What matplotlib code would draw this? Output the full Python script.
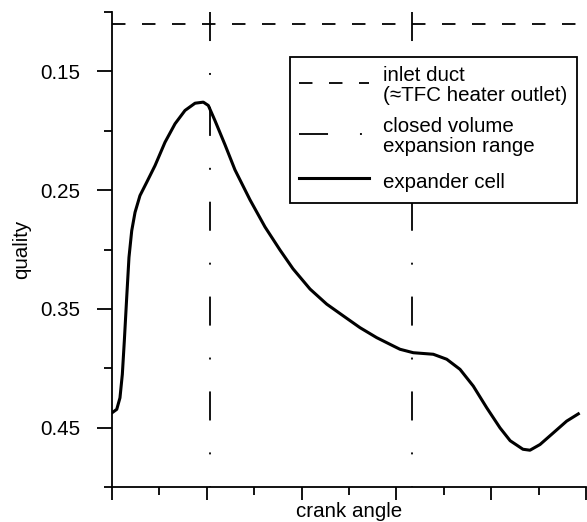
import numpy as np
import matplotlib
matplotlib.use("Agg")
import matplotlib.pyplot as plt
from matplotlib.ticker import MultipleLocator, FixedLocator

plt.rcParams['font.family'] = ['Liberation Sans', 'DejaVu Sans']
plt.rcParams['font.size'] = 14.8
plt.rcParams['lines.scale_dashes'] = False

# crank angle (arbitrary units, axis 0..500) and quality of the expander cell
crank = [0, 5.0, 8.4, 10.9, 13.0, 15.5, 17.9, 20.8, 24.3, 29.5, 36.6, 45.4,
         55.9, 66.5, 77.0, 87.6, 96.3, 101.6, 108.6, 119.2, 129.7, 145.6,
         161.4, 177.2, 190.9, 208.9, 226.5, 244.0, 261.6, 279.2, 296.7,
         303.8, 317.8, 338.9, 353.1, 367.1, 381.1, 395.3, 409.3, 420.0,
         433.5, 440.9, 451.5, 465.5, 479.6, 491.9]
quality = [0.4375, 0.4346, 0.4249, 0.4051, 0.3770, 0.3405, 0.3067, 0.2842,
           0.2687, 0.2546, 0.2434, 0.2293, 0.2097, 0.1941, 0.1829, 0.1768,
           0.1759, 0.1787, 0.1914, 0.2118, 0.2329, 0.2582, 0.2810, 0.3004,
           0.3162, 0.3333, 0.3460, 0.3559, 0.3658, 0.3742, 0.3812, 0.3840,
           0.3869, 0.3882, 0.3924, 0.4009, 0.4150, 0.4333, 0.4502, 0.4610,
           0.4682, 0.4690, 0.4642, 0.4544, 0.4445, 0.4384]

inlet_quality = 0.11
closed_range = [103, 316.5]
x_range = [0, 500]
y_range = [0.10, 0.50]
y_major = [0.15, 0.25, 0.35, 0.45]

fig = plt.figure(figsize=(5.87, 5.22), dpi=100)
ax = fig.add_axes([0.1908, 0.067, 0.8075, 0.910])

ax.plot(x_range, [inlet_quality, inlet_quality], color='black', lw=1.3,
        ls=(0, (9.7, 11.9)), label='inlet duct\n(≈TFC heater outlet)')
for i, xc in enumerate(closed_range):
    ax.plot([xc, xc], y_range, color='black', lw=1.3,
            ls=(0, (20.9, 23.0, 1.4, 23.0)),
            label='closed volume\nexpansion range' if i == 0 else None)
ax.plot(crank, quality, color='black', lw=2.2, label='expander cell',
        solid_joinstyle='round')

ax.set_xlim(x_range)
ax.set_ylim(y_range[1], y_range[0])

ax.xaxis.set_major_locator(MultipleLocator(100))
ax.xaxis.set_minor_locator(MultipleLocator(50))
ax.set_xticklabels([])
ax.yaxis.set_major_locator(FixedLocator(y_major))
ax.yaxis.set_minor_locator(FixedLocator([0.10, 0.20, 0.30, 0.40, 0.50]))
ax.set_yticklabels(['%.2f' % v for v in y_major])

for s in ['top', 'right']:
    ax.spines[s].set_visible(False)
for s in ['left', 'bottom']:
    ax.spines[s].set_linewidth(1.3)
ax.tick_params(which='major', direction='out', length=11, width=1.3, pad=12)
ax.tick_params(axis='x', which='major', length=9.5)
ax.tick_params(which='minor', direction='out', length=5.8, width=1.3)

ax.set_ylabel('quality', labelpad=6)
ax.set_xlabel('crank angle', va='baseline')
ax.xaxis.set_label_coords(0.5, -0.063)

leg = ax.legend(loc='upper right', bbox_to_anchor=(0.981, 0.905),
                borderaxespad=0, fancybox=False, framealpha=1,
                edgecolor='black', handlelength=3.4, handletextpad=0.72,
                labelspacing=0.58, borderpad=0.45, handleheight=1.6)
leg.get_frame().set_linewidth(1.3)
for t in leg.get_texts():
    t.set_linespacing(1.05)

fig.savefig('out.png', dpi=100)
